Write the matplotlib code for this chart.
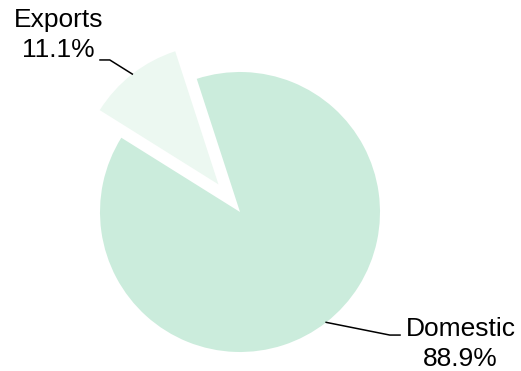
import numpy as np
import matplotlib.pyplot as plt

labels = ['Exports', 'Domestic']
values = [11.1, 88.9]
colors = ['#ecf8f1', '#cbecdc']
explode = [0.25, 0]

plt.rcParams['font.family'] = ['Liberation Sans', 'DejaVu Sans']

fig = plt.figure(figsize=(5.21, 3.71), dpi=100)
ax = fig.add_axes([0, 0, 1, 1])
ax.pie(values, colors=colors, explode=explode, startangle=108,
       counterclock=True, radius=1.0, wedgeprops=dict(linewidth=0))

# pixel-based view: 140 px per unit, centre at (240, 212) from top-left
ax.set_xlim(-240 / 140, (521 - 240) / 140)
ax.set_ylim(-(371 - 212) / 140, 212 / 140)
ax.set_aspect('equal')
ax.axis('off')

# leader lines and labels
start = 108
cum = 0
for lab, v, ex in zip(labels, values, explode):
    span = v / 100 * 360
    mid = np.deg2rad(start + cum + span / 2)
    cum += span
    ox, oy = ex * np.cos(mid), ex * np.sin(mid)
    ax_, ay_ = ox + np.cos(mid), oy + np.sin(mid)
    txt = f'{lab}\n{v:.1f}%'
    if np.cos(mid) < 0:
        ex_, ey_ = -0.93, 1.086
        hx = -1.0
        ax.plot([ax_, ex_, hx], [ay_, ey_, ey_], color='black', lw=1.1)
        ax.text(-0.975, 1.262, txt, ha='right', va='center',
                multialignment='center', fontsize=19, linespacing=1.3)
    else:
        ex_, ey_ = 1.07, -0.879
        hx = 1.143
        ax.plot([ax_, ex_, hx], [ay_, ey_, ey_], color='black', lw=1.1)
        ax.text(hx + 0.04, -0.945, txt, ha='left', va='center',
                multialignment='center', fontsize=19, linespacing=1.3)

fig.savefig('out.png', dpi=100)
